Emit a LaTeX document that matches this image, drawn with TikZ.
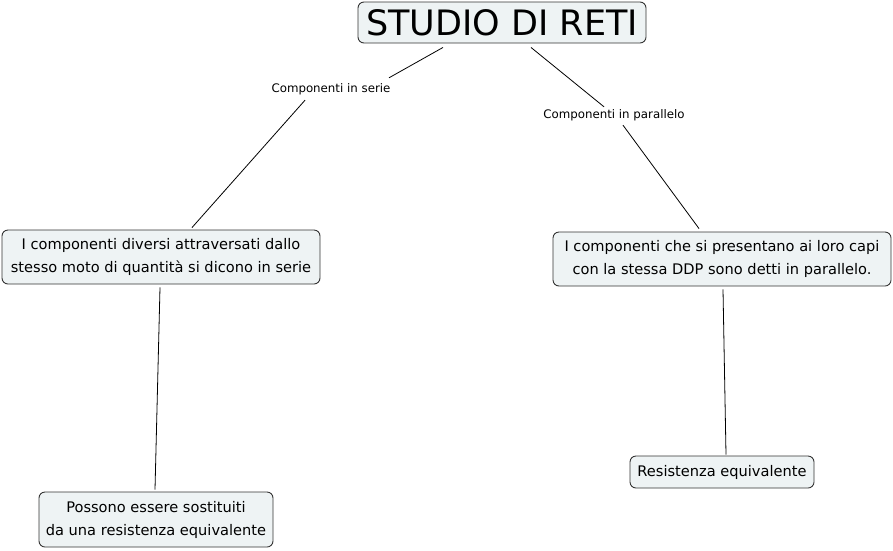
\documentclass[tikz,border=0pt]{standalone}
\usepackage{fontspec}
\setmainfont{DejaVu Sans}
\definecolor{boxfill}{HTML}{EEF3F4}
\definecolor{boxline}{HTML}{333333}
\begin{document}
\begin{tikzpicture}[x=1pt,y=-1pt,
  concept/.style={draw=boxline, line width=0.9pt, fill=boxfill, rounded corners=6pt,
    inner sep=0pt, align=center, font=\fontsize{14.6}{23}\selectfont},
  linklabel/.style={inner sep=0pt, minimum height=14pt, font=\fontsize{11.8}{14}\selectfont},
  conn/.style={draw=black, line width=0.8pt}]
\useasboundingbox (0,0) rectangle (893,550);
\node[concept, minimum width=288pt, minimum height=41pt, font=\fontsize{35}{40}\selectfont] (title) at (502,22.5) {STUDIO DI RETI};
\node[linklabel] (serie) at (331,89) {Componenti in serie};
\node[linklabel] (par) at (614,115) {Componenti in parallelo};
\node[concept, minimum width=318pt, minimum height=54pt] (left) at (161,257) {I componenti diversi attraversati dallo\\stesso moto di quantità si dicono in serie};
\node[concept, minimum width=338pt, minimum height=54pt] (right) at (722,259) {I componenti che si presentano ai loro capi\\con la stessa DDP sono detti in parallelo.};
\node[concept, minimum width=234pt, minimum height=55pt] (bl) at (156,519.5) {Possono essere sostituiti\\da una resistenza equivalente};
\node[concept, minimum width=184pt, minimum height=32pt] (br) at (722,472) {Resistenza equivalente};
\draw[conn] ([xshift=-59pt,yshift=-4pt]title.south) -- ([xshift=58pt,yshift=4pt]serie.north);
\draw[conn] ([xshift=-26pt,yshift=-4pt]serie.south) -- ([xshift=31pt,yshift=2pt]left.north);
\draw[conn] ([xshift=29pt,yshift=-4pt]title.south) -- ([xshift=-10pt,yshift=1pt]par.north);
\draw[conn] ([xshift=9pt,yshift=-3pt]par.south) -- ([xshift=-23pt,yshift=3pt]right.north);
\draw[conn] ([xshift=-1pt,yshift=-3pt]left.south) -- ([xshift=-1pt,yshift=2pt]bl.north);
\draw[conn] ([xshift=1pt,yshift=-3pt]right.south) -- ([xshift=4pt,yshift=1pt]br.north);
\end{tikzpicture}
\end{document}
